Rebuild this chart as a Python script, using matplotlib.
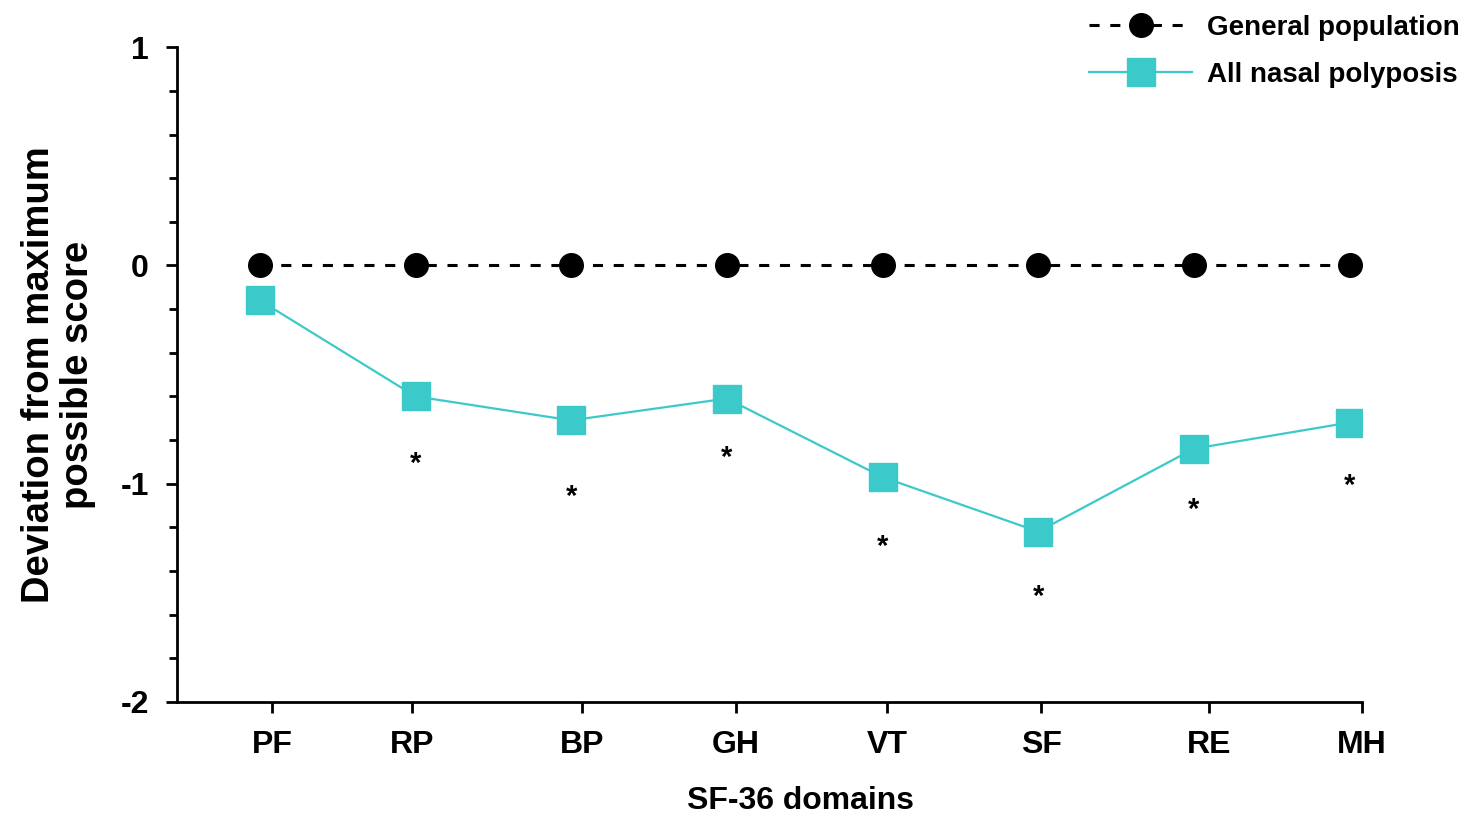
import matplotlib
matplotlib.use("Agg")
import matplotlib.pyplot as plt
from matplotlib.ticker import MultipleLocator

plt.rcParams['font.family'] = ['Liberation Sans', 'DejaVu Sans']

domains = ['PF', 'RP', 'BP', 'GH', 'VT', 'SF', 'RE', 'MH']
general_pop = [0, 0, 0, 0, 0, 0, 0, 0]
nasal_polyposis = [-0.16, -0.60, -0.71, -0.61, -0.97, -1.22, -0.84, -0.72]
# significance stars, y position under each point (None = no star)
star_y = [None, -0.91, -1.06, -0.88, -1.29, -1.52, -1.12, -1.01]
# tick label positions on the x axis (not aligned exactly with points in the original)
tick_pos = [0.08, 0.98, 2.07, 3.06, 4.03, 5.02, 6.10, 7.08]

cyan = '#3cc9c9'
x = list(range(len(domains)))

fig = plt.figure(figsize=(14.74, 8.16), dpi=100)
ax = fig.add_axes([0.120, 0.140, 0.804, 0.802])

ax.plot(x, general_pop, color='black', linestyle=(0, (3.3, 3.5)), linewidth=2.2,
        marker='o', markersize=17, label='General population', zorder=3)
ax.plot(x, nasal_polyposis, color=cyan, linestyle='-', linewidth=1.6,
        marker='s', markersize=20, label='All nasal polyposis', zorder=4)

for xi, sy in zip(x, star_y):
    if sy is not None:
        ax.text(xi, sy, '*', ha='center', va='center', fontsize=21,
                fontweight='bold', color='black')

ax.set_xlim(-0.533, 7.08)
ax.set_ylim(-2, 1)
ax.set_xticks(tick_pos)
ax.set_xticklabels(domains, fontsize=23, fontweight='bold')
ax.set_yticks([-2, -1, 0, 1])
ax.set_yticklabels(['-2', '-1', '0', '1'], fontsize=23, fontweight='bold')
ax.yaxis.set_minor_locator(MultipleLocator(0.2))

for side in ['top', 'right']:
    ax.spines[side].set_visible(False)
for side in ['left', 'bottom']:
    ax.spines[side].set_linewidth(2)
ax.tick_params(axis='both', which='major', length=8, width=2, pad=12)
ax.tick_params(axis='y', which='minor', length=6, width=2)

ax.set_xlabel('SF-36 domains', fontsize=23, fontweight='bold')
ax.xaxis.set_label_coords(0.526, -0.129)
ax.set_ylabel('Deviation from maximum\npossible score', fontsize=27.5, fontweight='bold',
              linespacing=1.1)
ax.yaxis.set_label_coords(-0.068, 0.5)

fig.legend(loc='upper right', bbox_to_anchor=(0.998, 0.995), frameon=False,
           prop={'size': 20, 'weight': 'bold'}, handlelength=3.7,
           handletextpad=0.55, labelspacing=0.75, borderaxespad=0)

fig.savefig('out.png', dpi=100)
